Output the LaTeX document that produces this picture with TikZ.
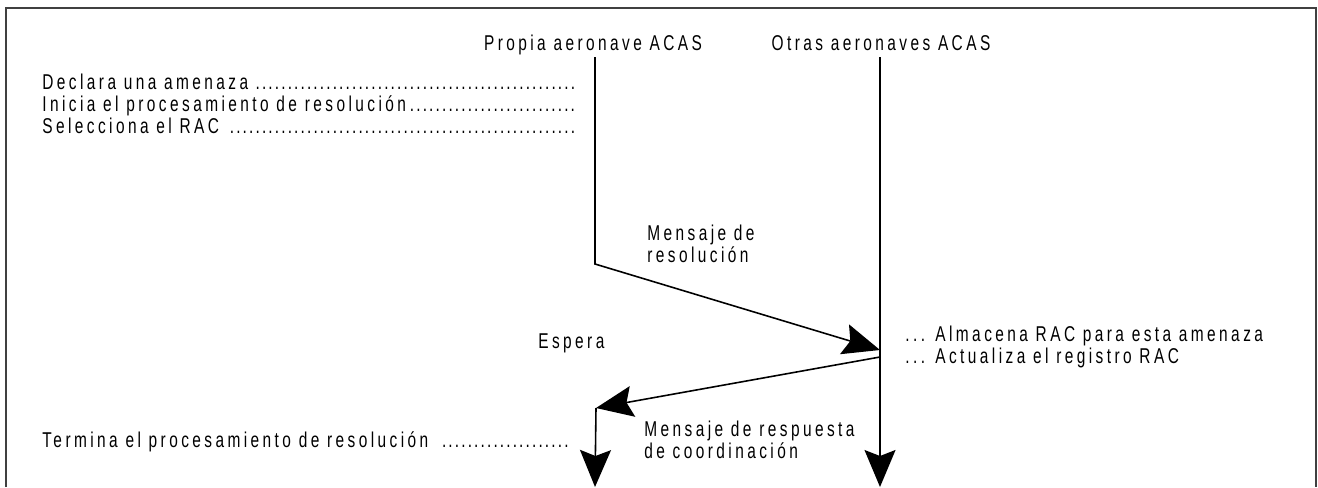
\documentclass[tikz,border=0pt]{standalone}
\usepackage{fontspec}
\setmainfont{Liberation Sans}[FakeStretch=0.72,LetterSpace=16]
\usetikzlibrary{arrows.meta}
\newcommand\dotlead{\leaders\hbox to 0.3em{\hss.\hss}\hfill}
\newcommand\leadline[2]{\makebox[#1][l]{#2\dotlead}}

\begin{document}
\begin{tikzpicture}[x=0.02cm, y=-0.02cm, font=\fontsize{12.2}{12.5}\selectfont,
  life/.style={line width=0.9pt},
  bigtip/.style={-{Stealth[length=0.74cm,width=0.62cm,inset=0.12cm]}},
  txt/.style={anchor=base west, inner sep=0pt, align=left}]
  \useasboundingbox (0,0) rectangle (1318,487);

  % Frame, open at the bottom
  \draw[line width=1pt, black!75] (6,487) -- (6,8) -- (1316,8) -- (1316,487);

  % Headers
  \node[anchor=base, inner sep=0pt] (own) at (593,50) {Propia aeronave ACAS};
  \node[anchor=base, inner sep=0pt] (other) at (881,50) {Otras aeronaves ACAS};

  % Points on the lifelines
  \coordinate (ownTop) at (595,57);
  \coordinate (ownTurn) at (595,264);
  \coordinate (otherTop) at (880,57);
  \coordinate (otherHit) at (880,350);
  \coordinate (otherSend) at (880,357);
  \coordinate (ownBack) at (596,408);
  \coordinate (ownEnd) at (595,487);
  \coordinate (otherEnd) at (880,487);

  % Messages and lifelines
  \draw[life, bigtip] (ownTop) -- (ownTurn) -- (otherHit);
  \draw[life, bigtip] (otherSend) -- (ownBack);
  \draw[life, bigtip] (ownBack) -- (ownEnd);
  \draw[life, bigtip] (otherTop) -- (otherEnd);

  % Own aircraft steps
  \node[txt] (threat) at (42,89) {\leadline{10.68cm}{Declara una amenaza}};
  \node[txt] (start) at (42,111) {\leadline{10.68cm}{Inicia el procesamiento de resolución}};
  \node[txt] (select) at (42,133) {\leadline{10.76cm}{Selecciona el RAC }};
  \node[txt] (finish) at (42,447) {\leadline{10.64cm}{Termina el procesamiento de resolución }};

  % Message labels
  \node[txt] (resmsg) at (647,262) {Mensaje de\\resolución};
  \node[txt] (wait) at (538,348) {Espera};
  \node[txt] (store) at (905,363) {... Almacena RAC para esta amenaza\\... Actualiza el registro RAC};
  \node[txt] (reply) at (644,458) {Mensaje de respuesta\\de coordinación};
\end{tikzpicture}
\end{document}
